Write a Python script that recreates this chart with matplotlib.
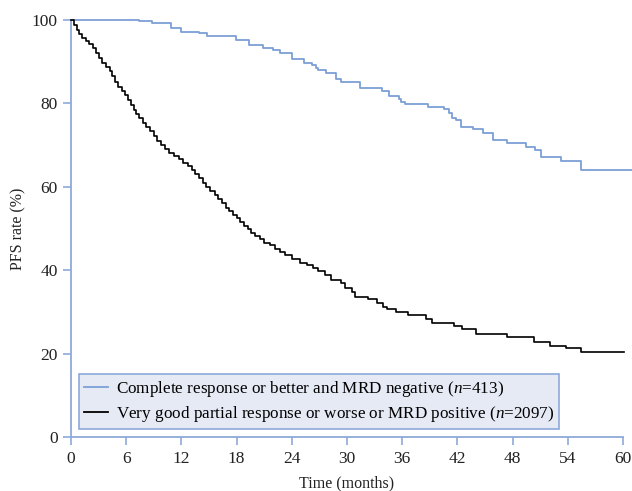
import matplotlib
matplotlib.use("Agg")
import matplotlib.pyplot as plt

# Data
blue_t = [0, 7.4, 8.8, 10.9, 12.0, 13.9, 14.8, 17.9, 19.3, 20.9, 22.0, 22.7, 24.0, 25.3,
          26.2, 26.6, 26.9, 27.7, 28.8, 29.4, 31.4, 33.8, 34.6, 35.6, 35.9, 36.3, 38.8,
          40.5, 41.1, 41.4, 41.9, 42.4, 43.7, 44.8, 45.9, 47.4, 49.5, 50.4, 51.1, 53.3,
          55.4, 61.0]
blue_v = [100, 99.8, 99.2, 98.0, 97.1, 96.8, 96.2, 95.2, 94.0, 93.4, 92.8, 92.0, 90.6, 89.8,
          89.1, 88.4, 88.0, 87.4, 85.8, 85.2, 83.6, 83.0, 81.8, 81.1, 80.4, 79.9, 79.2,
          78.7, 77.8, 76.6, 76.0, 74.4, 73.8, 73.0, 71.2, 70.4, 69.6, 68.8, 67.2, 66.3,
          64.0, 64.0]

black_t = [0, 0.3, 0.6, 0.9, 1.2, 1.6, 2.0, 2.4, 2.7, 3.0, 3.4, 3.8, 4.2, 4.5, 4.8, 5.1,
           5.5, 5.9, 6.2, 6.5, 6.8, 7.1, 7.4, 7.8, 8.2, 8.6, 9.0, 9.4, 9.8, 10.2, 10.7,
           11.2, 11.7, 12.2, 12.7, 13.1, 13.5, 13.9, 14.3, 14.7, 15.1, 15.6, 16.0, 16.4,
           16.8, 17.2, 17.6, 18.0, 18.4, 18.8, 19.2, 19.6, 20.0, 20.5, 21.0, 21.6, 22.2,
           22.7, 23.3, 24.0, 24.9, 25.6, 26.3, 26.9, 27.6, 28.3, 29.4, 29.8, 30.5, 30.9,
           32.3, 33.3, 33.9, 34.4, 35.3, 36.6, 38.6, 39.2, 41.6, 42.5, 44.0, 47.4, 50.3,
           52.1, 53.8, 55.4, 60.1]
black_v = [100, 98.8, 97.6, 96.6, 95.8, 95.0, 94.2, 93.4, 92.0, 90.8, 89.8, 88.8, 87.8,
           86.6, 85.2, 84.0, 83.0, 82.0, 80.8, 79.6, 78.4, 77.4, 76.4, 75.4, 74.4, 73.4,
           72.2, 71.0, 70.0, 69.0, 68.2, 67.4, 66.6, 65.8, 65.0, 64.0, 63.0, 62.0, 61.0,
           60.0, 59.0, 58.0, 57.0, 56.0, 55.0, 54.2, 53.2, 52.4, 51.6, 50.6, 49.8, 49.0,
           48.2, 47.4, 46.6, 46.0, 45.2, 44.4, 43.6, 42.8, 41.8, 41.2, 40.6, 39.8, 38.8,
           37.6, 36.9, 35.7, 34.8, 33.6, 33.0, 32.2, 31.2, 30.6, 30.0, 29.2, 28.4, 27.4,
           26.6, 25.8, 24.7, 23.9, 22.9, 21.8, 21.3, 20.5, 20.5]

x_ticks = [0, 6, 12, 18, 24, 30, 36, 42, 48, 54, 60]
y_ticks = [0, 20, 40, 60, 80, 100]
label_blue = "Complete response or better and MRD negative ($\\it{n}$=413)"
label_black = "Very good partial response or worse or MRD positive ($\\it{n}$=2097)"

plt.rcParams['font.family'] = ['Liberation Serif', 'DejaVu Serif']
plt.rcParams['mathtext.fontset'] = 'custom'
plt.rcParams['mathtext.it'] = 'Liberation Serif:italic'
plt.rcParams['mathtext.rm'] = 'Liberation Serif'

BLUE = '#7b9fd6'
SPINE = '#8eaad9'

fig = plt.figure(figsize=(6.32, 4.91), dpi=100)
ax = fig.add_axes([71/632, 54/491, 552/632, 417/491])

ax.step(blue_t, blue_v, where='post', color=BLUE, lw=1.3, clip_on=False, label=label_blue, zorder=3)
ax.step(black_t, black_v, where='post', color='black', lw=1.2, clip_on=False, label=label_black, zorder=3)

ax.set_xlim(0, 60)
ax.set_ylim(0, 100)
ax.set_xticks(x_ticks)
ax.set_yticks(y_ticks)
for s in ['top', 'right']:
    ax.spines[s].set_visible(False)
for s in ['left', 'bottom']:
    ax.spines[s].set_color(SPINE)
    ax.spines[s].set_linewidth(1.3)
ax.tick_params(axis='both', colors=SPINE, labelcolor='#222222', labelsize=12.5,
               length=6, width=1.2, direction='out')
ax.tick_params(axis='x', pad=4)

ax.set_xlabel('Time (months)', fontsize=11.5, color='#222222', labelpad=6)
ax.set_ylabel('PFS rate (%)', fontsize=11.5, color='#222222', labelpad=4)

leg = ax.legend(loc='lower left', bbox_to_anchor=(0.0145, 0.019), borderaxespad=0,
                fontsize=12.3, fancybox=False, framealpha=1, handlelength=1.4,
                handletextpad=0.45, labelspacing=0.3, borderpad=0.3)
leg.get_frame().set_facecolor('#e5eaf5')
leg.get_frame().set_edgecolor(SPINE)
leg.get_frame().set_linewidth(1.2)
for line in leg.get_lines():
    line.set_linewidth(1.3)

fig.savefig('out.png', dpi=100)
